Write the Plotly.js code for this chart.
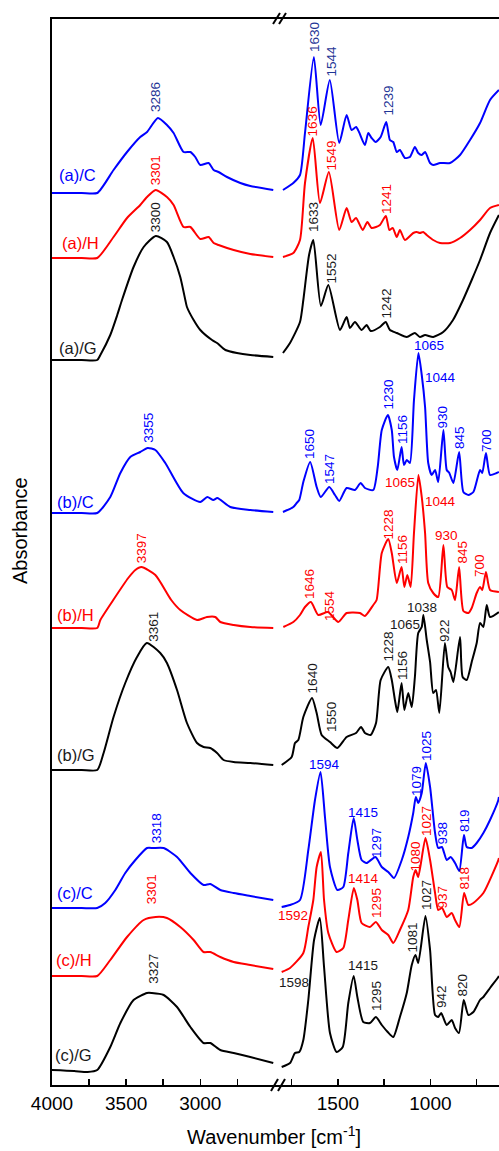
<!DOCTYPE html>
<html><head><meta charset="utf-8">
<script src="https://cdn.plot.ly/plotly-3.0.1.min.js"></script>
<style>html,body{margin:0;padding:0;background:#fff}#chart{width:499px;height:1151px}</style>
</head><body><div id="chart"></div>
<script>
// ---- data (wavenumber [cm-1], absorbance relative to own baseline, a.u.) ----
const seriesNames = ['(a)/C','(a)/H','(a)/G','(b)/C','(b)/H','(b)/G','(c)/C','(c)/H','(c)/G'];
const seriesKinds = ['C','H','G','C','H','G','C','H','G'];
const stackOffsets = [8.92, 8.27, 7.25, 5.72, 4.57, 3.15, 1.77, 1.09, 0.15];

const aC_high = [[4000,0],[3800,0],[3695,0],[3585,0.23],[3494,0.41],[3405,0.56],[3359,0.61],[3286,0.75],[3225,0.68],[3180,0.60],[3113,0.41],[3067,0.41],[3034,0.36],[3000,0.28],[2944,0.30],[2910,0.23],[2877,0.21],[2820,0.16],[2730,0.10],[2663,0.07],[2508,0.03]];
const aC_low = [[1797,0.03],[1741,0.10],[1705,0.18],[1678,0.60],[1630,1.36],[1593,0.68],[1544,1.13],[1493,0.50],[1453,0.78],[1426,0.63],[1402,0.66],[1386,0.61],[1354,0.48],[1336,0.60],[1318,0.55],[1296,0.51],[1269,0.56],[1239,0.71],[1219,0.53],[1201,0.51],[1182,0.41],[1165,0.43],[1138,0.35],[1111,0.36],[1084,0.46],[1066,0.40],[1047,0.38],[1029,0.41],[1002,0.30],[985,0.28],[948,0.30],[894,0.30],[840,0.38],[786,0.53],[732,0.70],[678,0.93],[630,1.03]];

const aH_high = [[4000,0],[3800,0],[3695,0],[3585,0.21],[3494,0.40],[3405,0.53],[3359,0.61],[3301,0.68],[3225,0.61],[3180,0.53],[3113,0.31],[3067,0.31],[3000,0.19],[2944,0.21],[2910,0.15],[2877,0.13],[2775,0.08],[2663,0.04],[2508,0.01]];
const aH_low = [[1797,0.01],[1741,0.05],[1705,0.18],[1678,0.75],[1636,1.20],[1597,0.55],[1549,0.86],[1493,0.28],[1453,0.50],[1426,0.36],[1402,0.40],[1366,0.28],[1341,0.36],[1318,0.30],[1294,0.31],[1273,0.33],[1241,0.42],[1222,0.28],[1204,0.30],[1182,0.21],[1165,0.28],[1138,0.18],[1093,0.25],[1074,0.26],[1057,0.25],[1039,0.26],[1020,0.23],[985,0.18],[948,0.15],[894,0.15],[840,0.20],[786,0.28],[732,0.38],[678,0.50],[630,0.53]];

const aG_high = [[4000,0],[3800,0],[3695,0],[3674,0.05],[3607,0.25],[3560,0.45],[3528,0.60],[3450,0.93],[3382,1.13],[3300,1.24],[3225,1.18],[3180,1.03],[3135,0.83],[3101,0.60],[3090,0.53],[3045,0.40],[3000,0.30],[2921,0.20],[2887,0.17],[2831,0.10],[2753,0.07],[2663,0.05],[2508,0.03]];
const aG_low = [[1797,0.07],[1759,0.17],[1705,0.38],[1687,0.60],[1656,1.05],[1633,1.20],[1592,0.54],[1552,0.75],[1489,0.30],[1453,0.43],[1435,0.32],[1408,0.38],[1372,0.30],[1345,0.35],[1323,0.29],[1273,0.33],[1242,0.38],[1219,0.30],[1182,0.27],[1128,0.23],[1084,0.27],[1057,0.23],[1029,0.25],[985,0.23],[931,0.28],[878,0.40],[824,0.60],[777,0.80],[732,1.00],[678,1.27],[630,1.45]];

const bC_high = [[4000,0],[3800,0],[3695,0],[3607,0.16],[3539,0.40],[3472,0.56],[3405,0.61],[3355,0.65],[3303,0.63],[3236,0.50],[3115,0.20],[3000,0.11],[2953,0.16],[2912,0.13],[2885,0.15],[2798,0.06],[2663,0.03],[2508,0.01]];
const bC_low = [[1797,0.01],[1741,0.06],[1723,0.10],[1709,0.13],[1687,0.31],[1650,0.51],[1615,0.26],[1593,0.16],[1547,0.26],[1516,0.18],[1493,0.12],[1453,0.25],[1408,0.23],[1377,0.30],[1354,0.25],[1309,0.23],[1285,0.46],[1263,0.83],[1230,0.98],[1209,0.83],[1197,0.56],[1179,0.43],[1156,0.66],[1143,0.48],[1128,0.53],[1111,0.50],[1089,1.13],[1065,1.60],[1047,1.38],[1029,1.06],[1012,0.50],[993,0.38],[975,0.43],[958,0.31],[930,0.83],[912,0.43],[898,0.40],[876,0.30],[845,0.61],[822,0.21],[795,0.18],[768,0.21],[732,0.43],[720,0.40],[700,0.60],[678,0.38],[642,0.40],[630,0.41]];

const bH_high = [[4000,0],[3800,0],[3695,0],[3674,0.08],[3587,0.28],[3486,0.50],[3438,0.58],[3397,0.61],[3303,0.53],[3196,0.28],[3135,0.18],[3022,0.08],[2955,0.11],[2899,0.11],[2865,0.06],[2775,0.03],[2663,0.01],[2508,0]];
const bH_low = [[1795,0.01],[1741,0.06],[1705,0.13],[1678,0.21],[1646,0.26],[1606,0.13],[1554,0.16],[1498,0.06],[1453,0.15],[1381,0.15],[1354,0.12],[1309,0.23],[1291,0.28],[1263,0.75],[1228,0.89],[1209,0.75],[1182,0.45],[1156,0.61],[1141,0.41],[1125,0.53],[1107,0.41],[1089,0.95],[1065,1.53],[1047,1.31],[1029,0.95],[1012,0.45],[985,0.35],[958,0.31],[930,0.83],[909,0.41],[885,0.38],[867,0.28],[845,0.61],[822,0.17],[795,0.15],[777,0.20],[750,0.35],[732,0.41],[720,0.38],[700,0.56],[678,0.38],[630,0.36]];

const bG_high = [[4000,0],[3800,0],[3695,0],[3652,0.17],[3585,0.53],[3506,0.87],[3427,1.13],[3361,1.27],[3270,1.17],[3225,1.07],[3157,0.80],[3090,0.47],[3022,0.27],[2978,0.23],[2933,0.22],[2887,0.17],[2843,0.10],[2775,0.08],[2663,0.07],[2508,0.05]];
const bG_low = [[1804,0.05],[1750,0.13],[1732,0.27],[1714,0.30],[1687,0.53],[1640,0.72],[1615,0.57],[1588,0.35],[1543,0.28],[1503,0.22],[1453,0.33],[1402,0.37],[1375,0.43],[1354,0.37],[1323,0.35],[1294,0.47],[1269,0.90],[1228,1.03],[1209,0.90],[1192,0.70],[1179,0.58],[1156,0.87],[1141,0.60],[1120,0.77],[1101,0.63],[1084,0.93],[1066,1.37],[1047,1.43],[1038,1.55],[1020,1.30],[1002,1.08],[985,0.77],[970,0.80],[952,0.57],[922,1.27],[904,1.03],[891,0.98],[876,0.88],[840,1.33],[826,0.93],[804,0.90],[777,1.08],[750,1.27],[732,1.47],[714,1.43],[696,1.65],[678,1.53],[630,1.58]];

const cC_high = [[4000,0],[3800,0],[3695,0],[3641,0.05],[3573,0.18],[3506,0.35],[3438,0.48],[3359,0.60],[3318,0.60],[3247,0.60],[3157,0.51],[3067,0.35],[2978,0.23],[2933,0.24],[2865,0.18],[2775,0.15],[2663,0.12],[2508,0.08]];
const cC_low = [[1804,0.01],[1759,0.03],[1705,0.08],[1660,0.58],[1624,1.08],[1594,1.36],[1570,0.91],[1543,0.41],[1503,0.18],[1471,0.21],[1444,0.55],[1415,0.90],[1395,0.68],[1372,0.48],[1345,0.45],[1297,0.51],[1263,0.41],[1228,0.36],[1197,0.30],[1155,0.48],[1120,0.71],[1093,0.95],[1079,1.11],[1066,1.05],[1047,1.15],[1025,1.45],[1002,1.21],[975,0.75],[958,0.60],[938,0.61],[912,0.48],[891,0.51],[867,0.45],[844,0.37],[819,0.73],[804,0.61],[777,0.60],[750,0.65],[714,0.75],[678,0.88],[633,1.08],[630,1.11]];

const cH_high = [[4000,0],[3800,0],[3695,0],[3607,0.16],[3494,0.39],[3382,0.56],[3301,0.59],[3225,0.58],[3135,0.49],[3045,0.36],[2978,0.24],[2933,0.24],[2865,0.19],[2775,0.14],[2663,0.11],[2508,0.07]];
const cH_low = [[1804,0.04],[1759,0.08],[1687,0.23],[1660,0.49],[1633,0.76],[1615,1.09],[1592,1.24],[1575,0.76],[1552,0.43],[1507,0.24],[1471,0.28],[1444,0.56],[1414,0.88],[1395,0.76],[1372,0.53],[1327,0.49],[1295,0.54],[1263,0.46],[1228,0.41],[1201,0.33],[1165,0.46],[1120,0.66],[1093,0.99],[1080,1.06],[1066,0.99],[1027,1.38],[1002,1.16],[975,0.83],[958,0.66],[937,0.68],[912,0.59],[885,0.63],[867,0.56],[844,0.49],[818,0.83],[795,0.71],[768,0.73],[714,0.83],[633,1.16],[630,1.18]];

const cG_high = [[4000,0],[3850,-0.01],[3760,-0.02],[3695,0],[3607,0.23],[3539,0.47],[3450,0.70],[3359,0.77],[3327,0.77],[3247,0.75],[3157,0.63],[3067,0.43],[2978,0.27],[2933,0.27],[2865,0.20],[2775,0.17],[2663,0.13],[2508,0.07]];
const cG_low = [[1804,0.03],[1759,0.07],[1732,0.17],[1709,0.18],[1687,0.30],[1660,0.70],[1629,1.30],[1598,1.52],[1575,1.03],[1543,0.37],[1507,0.18],[1474,0.23],[1444,0.67],[1415,0.94],[1395,0.73],[1363,0.48],[1327,0.47],[1295,0.53],[1263,0.45],[1231,0.38],[1201,0.33],[1165,0.53],[1128,0.77],[1101,1.05],[1081,1.15],[1066,1.07],[1027,1.54],[1002,1.20],[975,0.55],[958,0.53],[942,0.57],[912,0.45],[885,0.50],[867,0.42],[846,0.37],[820,0.70],[795,0.55],[768,0.58],[732,0.70],[714,0.73],[678,0.82],[633,0.93],[630,0.94]];

const highRegion = [aC_high, aH_high, aG_high, bC_high, bH_high, bG_high, cC_high, cH_high, cG_high];
const lowRegion  = [aC_low,  aH_low,  aG_low,  bC_low,  bH_low,  bG_low,  cC_low,  cH_low,  cG_low];

// x tick values / labels
const highTicks = [4000, 3500, 3000];
const highMinorTicks = [3750, 3250, 2750];
const lowTicks = [1500, 1000];
const lowMinorTicks = [1750, 1250, 750];

// peak labels: [series index, text, x (cm-1), y (a.u.), rotated?, region]
const peakLabels = [
  [0,'3286',3305,9.88,1,'h'],[1,'3301',3303,9.15,1,'h'],[2,'3300',3303,8.68,1,'h'],
  [3,'3355',3354,6.57,1,'h'],[4,'3397',3398,5.37,1,'h'],[5,'3361',3321,4.58,1,'h'],
  [6,'3318',3297,2.57,1,'h'],[7,'3301',3330,1.96,1,'h'],[8,'3327',3321,1.16,1,'h'],
  [0,'1630',1629,10.48,1,'l'],[0,'1544',1535,10.24,1,'l'],[0,'1239',1232,9.84,1,'l'],
  [1,'1636',1638,9.64,1,'l'],[1,'1549',1535,9.30,1,'l'],[1,'1241',1240,8.86,1,'l'],
  [2,'1633',1635,8.68,1,'l'],[2,'1552',1535,8.17,1,'l'],[2,'1242',1238,7.82,1,'l'],
  [3,'1650',1656,6.41,1,'l'],[3,'1547',1548,6.16,1,'l'],[3,'1230',1232,6.90,1,'l'],[3,'1156',1154,6.56,1,'l'],
  [3,'1065',1008,7.40,0,'l'],[3,'1044',948,7.08,0,'l'],[3,'930',935,6.68,1,'l'],[3,'845',846,6.48,1,'l'],[3,'700',700,6.45,1,'l'],
  [4,'1065',1165,6.03,0,'l'],[4,'1044',948,5.84,0,'l'],[4,'1228',1232,5.60,1,'l'],[4,'1156',1154,5.36,1,'l'],
  [4,'930',913,5.50,0,'l'],[4,'845',827,5.33,1,'l'],[4,'700',738,5.20,1,'l'],[4,'1646',1656,5.01,1,'l'],[4,'1554',1548,4.79,1,'l'],
  [5,'1640',1638,4.07,1,'l'],[5,'1550',1538,3.68,1,'l'],[5,'1228',1232,4.38,1,'l'],[5,'1156',1154,4.20,1,'l'],
  [5,'1065',1138,4.61,0,'l'],[5,'1038',1046,4.78,0,'l'],[5,'922',927,4.55,1,'l'],
  [6,'1594',1570,3.21,0,'l'],[6,'1415',1365,2.73,0,'l'],[6,'1297',1294,2.42,1,'l'],[6,'1079',1078,3.04,1,'l'],
  [6,'1025',1024,3.39,1,'l'],[6,'938',935,2.52,1,'l'],[6,'819',819,2.65,1,'l'],
  [7,'1592',1743,1.70,0,'l'],[7,'1414',1362,2.07,0,'l'],[7,'1295',1294,1.82,1,'l'],[7,'1080',1081,2.29,1,'l'],
  [7,'1027',1024,2.64,1,'l'],[7,'937',935,1.88,1,'l'],[7,'818',816,2.07,1,'l'],
  [8,'1598',1738,1.03,0,'l'],[8,'1415',1365,1.20,0,'l'],[8,'1295',1294,0.89,1,'l'],[8,'1081',1097,1.48,1,'l'],
  [8,'1027',1024,1.90,1,'l'],[8,'942',943,0.89,1,'l'],[8,'820',827,1.00,1,'l']
];
// series name labels: [x (cm-1), y (a.u.)]
const nameLabelPos = [[3829,9.10],[3809,8.42],[3823,7.37],[3843,5.83],[3843,4.70],[3836,3.30],[3843,1.92],[3850,1.25],[3856,0.30]];

// ---- styling ----
const lineColor = {C:'#0000ff', H:'#ff0000', G:'#000000'};
const textColor = {C:'#0000ff', H:'#ff0000', G:'#1a1a1a'};
const FONT = 'Liberation Sans, Arial, Helvetica, sans-serif';

const traces = [];
seriesNames.forEach((nm, i) => {
  const col = lineColor[seriesKinds[i]];
  [[highRegion[i], 'x'], [lowRegion[i], 'x2']].forEach(([pts, ax]) => {
    traces.push({
      type: 'scatter', mode: 'lines', name: nm, showlegend: false,
      x: pts.map(p => p[0]),
      y: pts.map(p => p[1] + stackOffsets[i]),
      xaxis: ax, yaxis: 'y',
      line: {color: col, width: 2, shape: 'spline', smoothing: 0.6},
      hoverinfo: 'skip'
    });
  });
});

const annotations = [];
peakLabels.forEach(([si, txt, x, y, rot, reg]) => {
  let col = textColor[seriesKinds[si]];
  if (si === 0) col = '#1f3596';
  annotations.push({
    text: txt, x: x, y: y, xref: reg === 'h' ? 'x' : 'x2', yref: 'y',
    xanchor: 'center', yanchor: 'middle',
    showarrow: false, textangle: rot ? -90 : 0,
    font: {family: FONT, size: 13.5, color: col}
  });
});
seriesNames.forEach((nm, i) => {
  annotations.push({
    text: nm, x: nameLabelPos[i][0], y: nameLabelPos[i][1], xref: 'x', yref: 'y',
    xanchor: 'center', yanchor: 'middle',
    showarrow: false, font: {family: FONT, size: 16.5, color: textColor[seriesKinds[i]]}
  });
});
annotations.push({
  text: 'Wavenumber [cm<sup>-1</sup>]', xref: 'paper', yref: 'paper', x: 0.497, y: -0.0612,
  xanchor: 'center', yanchor: 'bottom',
  showarrow: false, font: {family: FONT, size: 20, color: '#000'}
});
annotations.push({
  text: 'Absorbance', xref: 'paper', yref: 'paper', x: -0.0716, y: 0.5206, textangle: -90,
  xanchor: 'center', yanchor: 'middle',
  showarrow: false, font: {family: FONT, size: 20, color: '#000'}
});

// break marks (axis decoration)
const W = 447, H = 1066;
function px(xp){ return (xp - 52) / W; }
function py(yp){ return (1085 - yp) / H; }
const shapes = [];
[[271,1091,278,1079],[278,1091,285,1079],[273,24,280,13],[279,24,286,13]].forEach(s => {
  shapes.push({type:'line', xref:'paper', yref:'paper', x0:px(s[0]), y0:py(s[1]), x1:px(s[2]), y1:py(s[3]),
    line:{color:'#000', width:2}});
});

const axisCommon = {
  showgrid: false, zeroline: false, showline: true, linecolor: '#000', linewidth: 2,
  mirror: true, ticks: 'inside', ticklen: 6, tickwidth: 1.5, tickcolor: '#000',
  tickmode: 'array', tickfont: {family: FONT, size: 19, color: '#000'}, fixedrange: true
};
const minorCommon = {tickmode: 'array', ticks: 'inside', ticklen: 6, tickwidth: 1.5, tickcolor: '#000', showgrid: false};
const layout = {
  width: 499, height: 1151,
  margin: {l: 52, r: 0, t: 19, b: 66},
  paper_bgcolor: '#fff', plot_bgcolor: '#fff',
  showlegend: false,
  xaxis: Object.assign({}, axisCommon, {domain: [0, 0.5076], range: [4000, 2470],
    tickvals: highTicks, ticktext: highTicks.map(String), anchor: 'y',
    minor: Object.assign({}, minorCommon, {tickvals: highMinorTicks})}),
  xaxis2: Object.assign({}, axisCommon, {domain: [0.5076, 1], range: [1819, 629.5],
    tickvals: lowTicks, ticktext: lowTicks.map(String), anchor: 'y',
    minor: Object.assign({}, minorCommon, {tickvals: lowMinorTicks})}),
  yaxis: {range: [0, 10.66], showgrid: false, zeroline: false, showline: true, linecolor: '#000',
    linewidth: 2, ticks: '', showticklabels: false, fixedrange: true, anchor: 'x'},
  annotations: annotations,
  shapes: shapes
};
Plotly.newPlot('chart', traces, layout, {staticPlot: true, displayModeBar: false});
</script>
</body></html>
